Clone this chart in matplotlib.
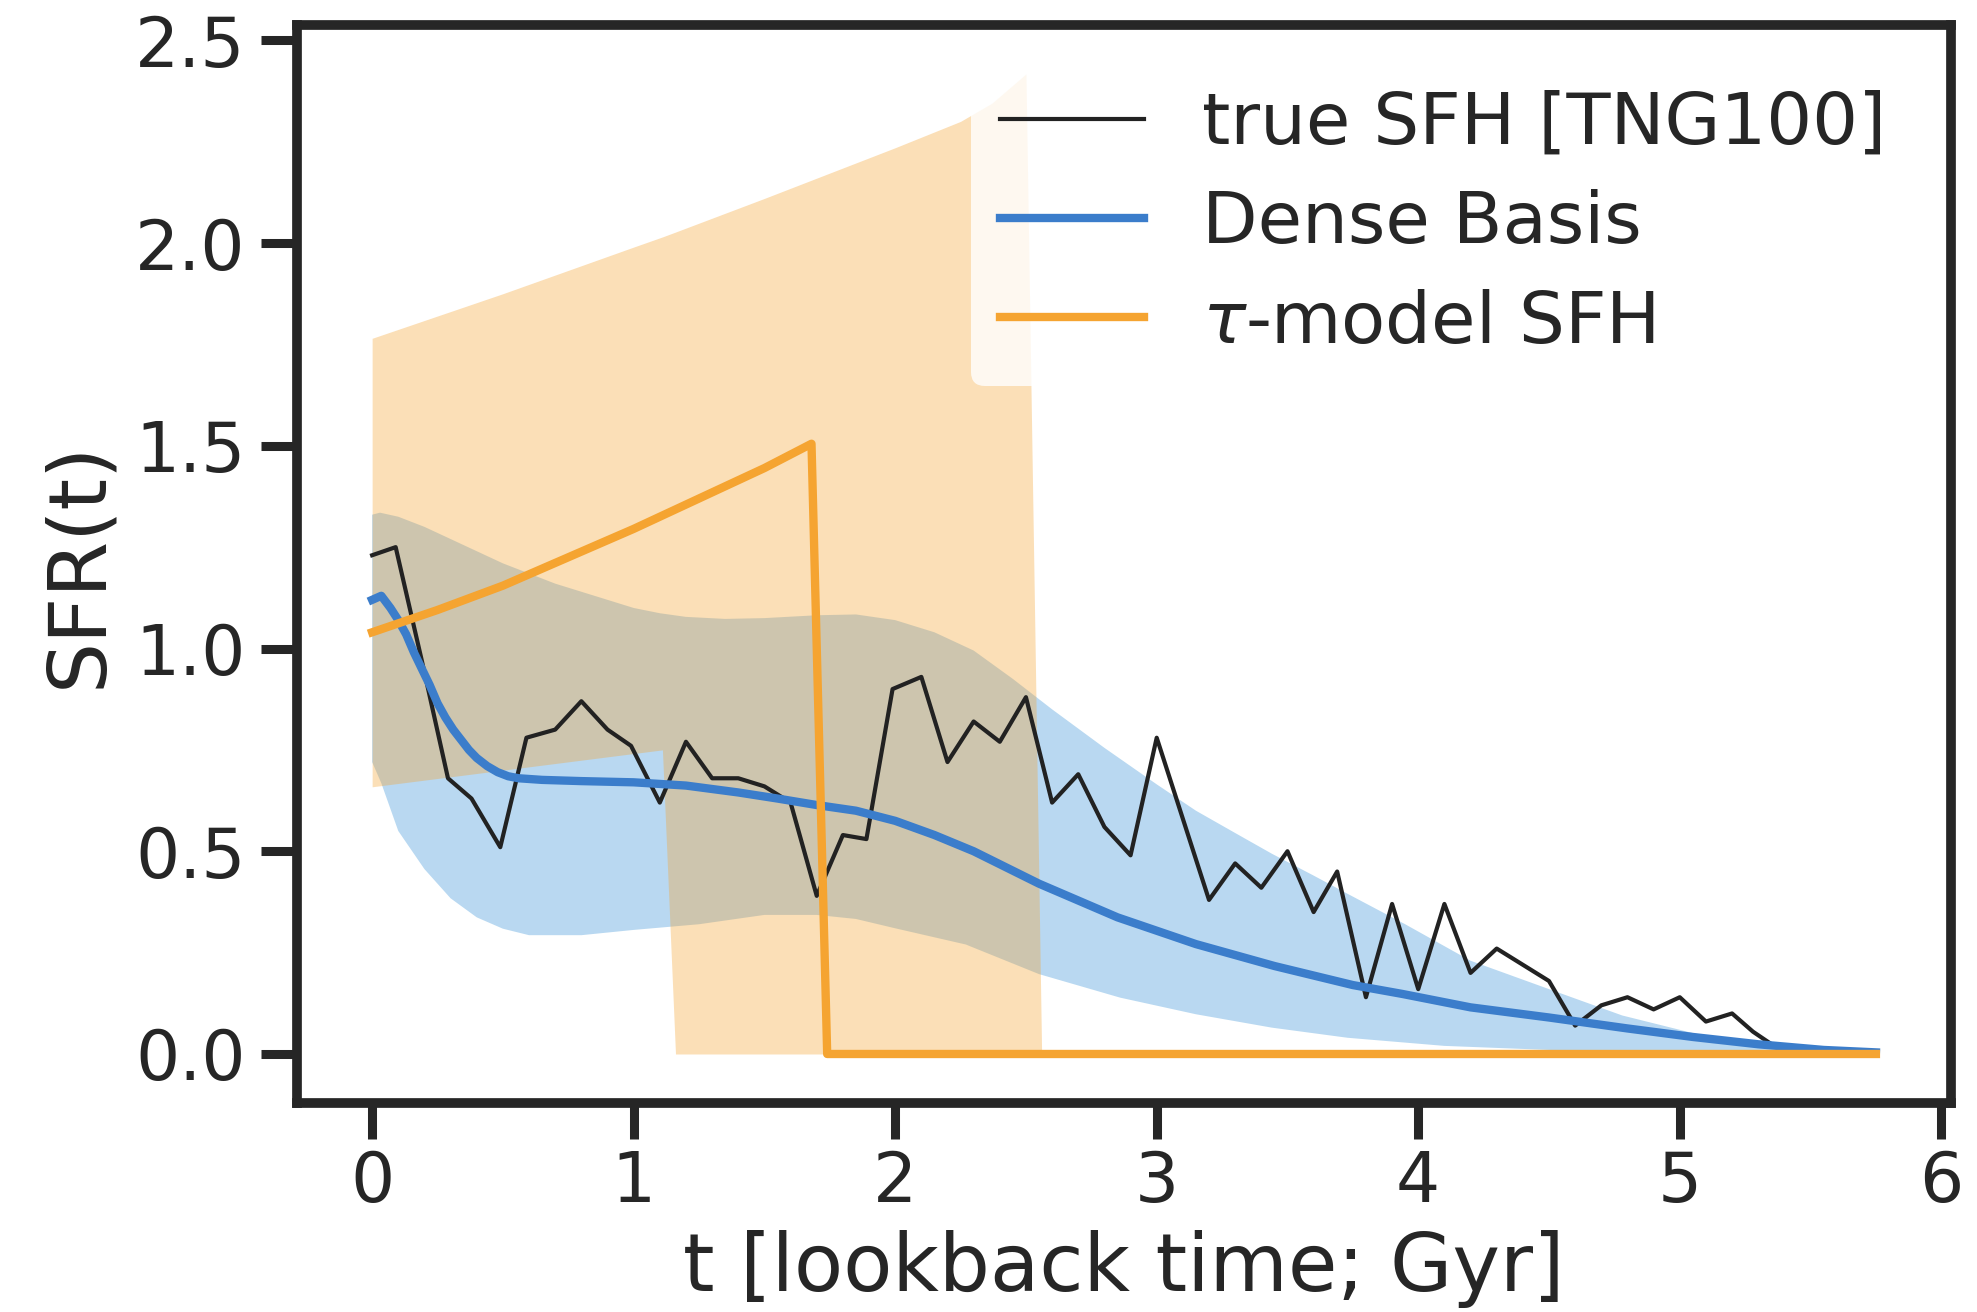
import matplotlib
matplotlib.use('Agg')
import matplotlib.pyplot as plt

# true SFH from TNG100 (lookback time in Gyr, SFR)
t_true = [0.00, 0.09, 0.19, 0.29, 0.38, 0.49, 0.59, 0.70, 0.80, 0.90,
          0.99, 1.10, 1.20, 1.30, 1.40, 1.50, 1.60, 1.70, 1.80, 1.89,
          1.99, 2.10, 2.20, 2.30, 2.40, 2.50, 2.60, 2.70, 2.80, 2.90,
          3.00, 3.10, 3.20, 3.30, 3.40, 3.50, 3.60, 3.69, 3.80, 3.90,
          4.00, 4.10, 4.20, 4.30, 4.40, 4.50, 4.60, 4.70, 4.80, 4.90,
          5.00, 5.10, 5.20, 5.28, 5.36]
sfr_true = [1.23, 1.25, 0.97, 0.68, 0.63, 0.51, 0.78, 0.80, 0.87, 0.80,
            0.76, 0.62, 0.77, 0.68, 0.68, 0.66, 0.62, 0.39, 0.54, 0.53,
            0.90, 0.93, 0.72, 0.82, 0.77, 0.88, 0.62, 0.69, 0.56, 0.49,
            0.78, 0.58, 0.38, 0.47, 0.41, 0.50, 0.35, 0.45, 0.14, 0.37,
            0.16, 0.37, 0.20, 0.26, 0.22, 0.18, 0.07, 0.12, 0.14, 0.11,
            0.14, 0.08, 0.10, 0.055, 0.02]

# Dense Basis median
t_db = [0.0, 0.035, 0.07, 0.10, 0.13, 0.16, 0.19, 0.22, 0.25, 0.28,
        0.31, 0.34, 0.37, 0.40, 0.44, 0.48, 0.52, 0.56, 0.65, 0.80,
        1.0, 1.2, 1.4, 1.55, 1.7, 1.85, 2.0, 2.15, 2.3, 2.55,
        2.85, 3.15, 3.45, 3.75, 3.94, 4.2, 4.5, 4.8, 5.05, 5.3,
        5.55, 5.75]
sfr_db = [1.12, 1.13, 1.10, 1.07, 1.035, 0.99, 0.95, 0.91, 0.865, 0.83,
          0.80, 0.775, 0.75, 0.73, 0.71, 0.695, 0.685, 0.68, 0.676, 0.673,
          0.670, 0.662, 0.645, 0.63, 0.614, 0.60, 0.575, 0.54, 0.50, 0.42,
          0.337, 0.271, 0.217, 0.17, 0.148, 0.115, 0.09, 0.063, 0.042, 0.024,
          0.01, 0.004]

# Dense Basis band, upper edge
t_db_hi = [0.0, 0.03, 0.1, 0.2, 0.3, 0.4, 0.5, 0.6, 0.7, 0.8,
           0.9, 1.0, 1.1, 1.2, 1.35, 1.5, 1.7, 1.85, 2.0, 2.15,
           2.3, 2.45, 2.6, 2.8, 3.0, 3.15, 3.3, 3.44, 3.6, 3.73,
           3.95, 4.2, 4.5, 4.78, 5.06, 5.36, 5.62, 5.75]
sfr_db_hi = [1.33, 1.335, 1.325, 1.30, 1.27, 1.24, 1.21, 1.185, 1.16, 1.14,
             1.12, 1.10, 1.087, 1.078, 1.073, 1.075, 1.082, 1.084, 1.07, 1.04,
             0.995, 0.925, 0.85, 0.755, 0.665, 0.60, 0.545, 0.494, 0.44, 0.395,
             0.32, 0.23, 0.16, 0.095, 0.05, 0.02, 0.006, 0.002]

# Dense Basis band, lower edge
t_db_lo = [0.0, 0.035, 0.1, 0.2, 0.3, 0.4, 0.5, 0.6, 0.8, 1.0,
           1.25, 1.5, 1.7, 1.85, 2.0, 2.27, 2.55, 2.86, 3.15, 3.44,
           3.73, 4.1, 4.5, 5.0, 5.4, 5.75]
sfr_db_lo = [0.72, 0.668, 0.55, 0.456, 0.384, 0.337, 0.309, 0.293, 0.293, 0.306,
             0.32, 0.343, 0.343, 0.333, 0.31, 0.27, 0.197, 0.139, 0.098, 0.065,
             0.04, 0.02, 0.01, 0.004, 0.001, 0.0]

# tau-model
t_tau = [0.0, 0.25, 0.5, 0.75, 1.0, 1.25, 1.5, 1.68, 1.74, 5.75]
sfr_tau = [1.04, 1.095, 1.155, 1.225, 1.295, 1.37, 1.445, 1.505, 0.0, 0.0]

t_tau_band = [0.0, 0.5, 1.0, 1.11, 1.16, 1.5, 2.0, 2.25, 2.37, 2.50, 2.56]
sfr_tau_hi = [1.765, 1.875, 1.99, 2.015, 2.027, 2.11, 2.235, 2.30, 2.345, 2.417, 0.0]
sfr_tau_lo = [0.659, 0.70, 0.741, 0.75, 0.0, 0.0, 0.0, 0.0, 0.0, 0.0, 0.0]

plt.rcParams.update({
    'font.family': 'DejaVu Sans',
    'text.color': '.15',
    'axes.labelcolor': '.15',
    'axes.edgecolor': '.15',
    'axes.linewidth': 7,
    'xtick.color': '.15',
    'ytick.color': '.15',
    'xtick.major.size': 26,
    'ytick.major.size': 26,
    'xtick.major.width': 6.5,
    'ytick.major.width': 6.5,
    'xtick.major.pad': 7,
    'ytick.major.pad': 11,
    'xtick.labelsize': 50,
    'ytick.labelsize': 50,
    'axes.labelsize': 58,
})

fig = plt.figure(figsize=(19.77, 13.12), dpi=100)
ax = fig.add_axes([0.1502, 0.1593, 0.8367, 0.8217])

# bands (blue first, orange on top of it)
ax.fill(t_db_hi + t_db_lo[::-1], sfr_db_hi + sfr_db_lo[::-1],
        color=(0.09, 0.5, 0.82), alpha=0.3, lw=0)
ax.fill_between(t_tau_band, sfr_tau_hi, sfr_tau_lo, color='#f5a431', alpha=0.35, lw=0)

ax.plot(t_true, sfr_true, color='#222222', lw=3, label='true SFH [TNG100]')
ax.plot(t_db, sfr_db, color='#3b7dcb', lw=6, label='Dense Basis')
ax.plot(t_tau, sfr_tau, color='#f5a431', lw=6, label=r'$\tau$-model SFH')

ax.set_xlabel('t [lookback time; Gyr]', labelpad=10)
ax.set_ylabel('SFR(t)', labelpad=12)
ax.set_xticks([0, 1, 2, 3, 4, 5, 6])
ax.set_yticks([0.0, 0.5, 1.0, 1.5, 2.0, 2.5])

leg = ax.legend(loc='upper right', fontsize=52, edgecolor='none', labelspacing=0.42)

fig.savefig('out.png', dpi=100)
